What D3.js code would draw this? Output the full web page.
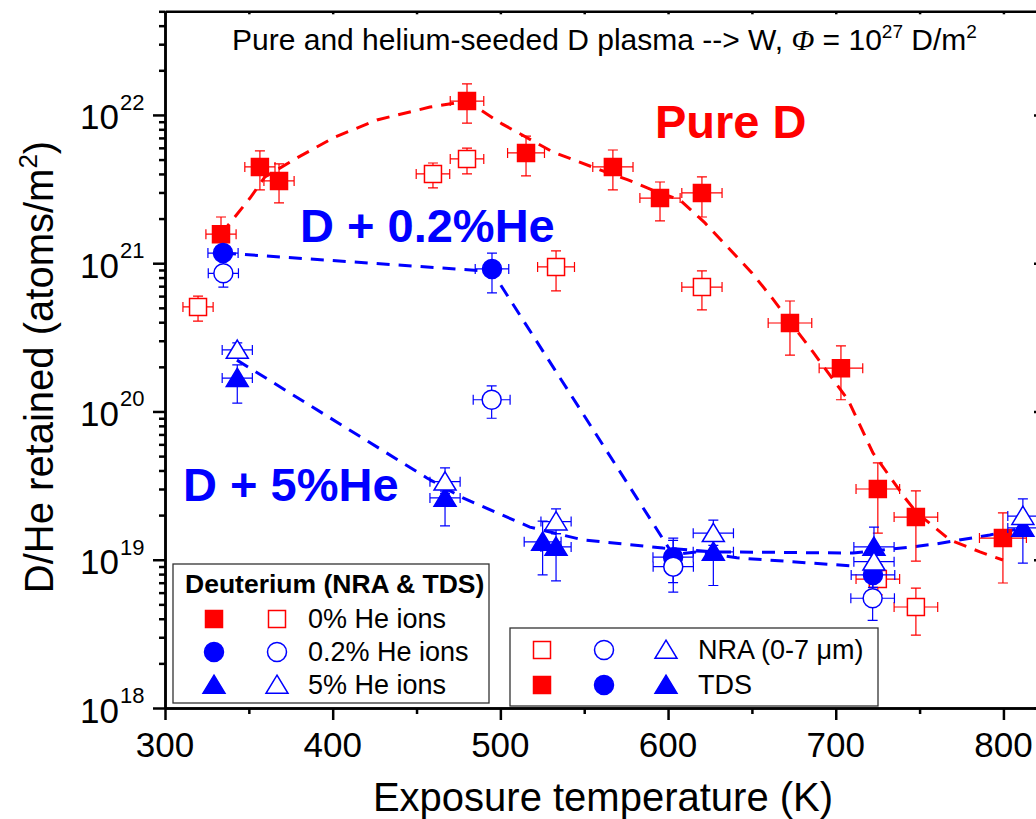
<!DOCTYPE html>
<html>
<head>
<meta charset="utf-8">
<script src="https://cdn.jsdelivr.net/npm/d3@7"></script>
<style>
  body { margin: 0; background: #fff; }
  svg { display: block; font-family: "Liberation Sans", Arial, sans-serif; }
</style>
</head>
<body>
<div id="chart"></div>
<script>
// tick values
const tempTicks = [300, 400, 500, 600, 700, 800];
const tempMinor = [350, 450, 550, 650, 750];
const topTicks = [300, 350, 400, 450, 500, 550, 600, 650, 700, 750, 800];
const decadeTicks = [1e18, 1e19, 1e20, 1e21, 1e22];
const decadeExp = ["18", "19", "20", "21", "22"];

// [T (K), retained, lower, upper, +-dT]
const pureTDS = [
  [333.4, 1.57e21, 1.19e21, 2.05e21, 9],
  [356.6, 4.46e21, 3.12e21, 5.72e21, 9],
  [368.0, 3.59e21, 2.55e21, 4.67e21, 9],
  [480.1, 1.24e22, 8.8e21, 1.62e22, 10],
  [515.3, 5.54e21, 3.88e21, 7.2e21, 11],
  [567.1, 4.46e21, 3.12e21, 5.8e21, 12],
  [595.2, 2.75e21, 1.93e21, 3.53e21, 12],
  [620.2, 2.98e21, 2.05e21, 3.82e21, 12],
  [672.7, 3.95e20, 2.4e20, 5.56e20, 13],
  [703.1, 1.96e20, 1.2e20, 2.77e20, 13],
  [725.1, 3.0e19, 1.51e19, 4.5e19, 13],
  [747.8, 1.94e19, 9.8e18, 2.91e19, 13],
  [799.7, 1.40e19, 6.97e18, 2.07e19, 14]
];
const pureNRA = [
  [319.7, 5.07e20, 4.07e20, 6.0e20, 9],
  [459.8, 4.0e21, 3.22e21, 4.74e21, 10],
  [480.1, 5.05e21, 4.0e21, 5.98e21, 10],
  [533.2, 9.44e20, 6.5e20, 1.21e21, 11],
  [620.2, 6.9e20, 4.84e20, 8.87e20, 12],
  [725.1, 7.4e18, 5.8e18, 9.2e18, 13],
  [747.8, 4.8e18, 3.1e18, 6.44e18, 13]
];
const he02TDS = [
  [334.6, 1.17e21, 1.05e21, 1.3e21, 9],
  [495.0, 9.15e20, 6.3e20, 1.17e21, 10],
  [603.0, 1.04e19, 7.0e18, 1.35e19, 12],
  [722.2, 7.9e18, 6.5e18, 9.5e18, 13]
];
const he02NRA = [
  [334.8, 8.55e20, 6.9e20, 1.05e21, 9],
  [494.8, 1.2e20, 9.0e19, 1.49e20, 11],
  [603.1, 8.98e18, 6.05e18, 1.4e19, 12],
  [722.0, 5.5e18, 3.9e18, 7.65e18, 13]
];
const he5TDS = [
  [343.1, 1.68e20, 1.14e20, 2.06e20, 9],
  [467.0, 2.61e19, 1.69e19, 2.9e19, 9],
  [525.2, 1.32e19, 7.9e18, 1.82e19, 11],
  [533.2, 1.22e19, 7.2e18, 1.5e19, 9],
  [627.0, 1.13e19, 6.7e18, 1.4e19, 12],
  [722.8, 1.22e19, 1.0e19, 1.66e19, 12],
  [811.6, 1.64e19, 9.5e18, 2.0e19, 9]
];
const he5NRA = [
  [343.1, 2.6e20, 2.3e20, 2.9e20, 9],
  [467.0, 3.36e19, 2.8e19, 4.16e19, 9],
  [533.2, 1.81e19, 1.5e19, 2.2e19, 9],
  [627.0, 1.51e19, 1.25e19, 1.85e19, 12],
  [722.8, 9.7e18, 8.0e18, 1.15e19, 12],
  [811.6, 1.97e19, 1.6e19, 2.57e19, 9]
];

// dashed guides to the eye
const guidePure = [[333.4, 1.57e21], [350.7, 2.75e21], [359.6, 3.82e21], [378.7, 5.13e21], [401.4, 7.1e21],
  [426.4, 9.25e21], [458, 1.13e22], [480.1, 1.24e22], [501, 8.7e21], [531.4, 5.62e21], [559.4, 4.26e21],
  [576.1, 3.65e21], [590.4, 3.12e21], [607.1, 2.67e21], [622, 1.87e21], [650, 8.6e20], [662, 5.83e20],
  [686.4, 2.52e20], [707.3, 1.2e20], [722.2, 5.25e19], [741.3, 2.61e19], [748.4, 2.07e19], [768.1, 1.36e19],
  [786, 1.13e19], [799.7, 9.96e18]];
const guide02 = [[334.6, 1.17e21], [495, 8.8e20], [603, 1.08e19], [617, 1.13e19], [641, 1.03e19], [709, 9.1e18]];
const guide5 = [[342.9, 2.22e20], [456.2, 3.56e19], [477.7, 2.61e19], [517.6, 1.66e19], [549.3, 1.36e19],
  [597, 1.2e19], [626.8, 1.13e19], [710.3, 1.11e19], [745.4, 1.22e19], [760.3, 1.28e19], [791.9, 1.47e19],
  [811.6, 1.64e19]];

const RED = "#ff0000", BLUE = "#0000ff";
const W = 1036, H = 819;

const svg = d3.select("#chart").append("svg").attr("width", W).attr("height", H);

const x = d3.scaleLinear().domain([300, 823]).range([165, 1042]);
const y = d3.scaleLog().domain([1e18, 5e22]).range([708, 11.3]);

// guides
const line = d3.line().x(d => x(d[0])).y(d => y(d[1]));
[[guidePure, RED], [guide02, BLUE], [guide5, BLUE]].forEach(([g, c]) => {
  svg.append("path").datum(g).attr("d", line)
    .attr("fill", "none").attr("stroke", c).attr("stroke-width", 3)
    .attr("stroke-dasharray", "13,9");
});

// symbols
const sym = {
  square: s => `M${-s / 2},${-s / 2}h${s}v${s}h${-s}Z`,
  circle: s => `M${s / 2},0A${s / 2},${s / 2} 0 1,1 ${-s / 2},0A${s / 2},${s / 2} 0 1,1 ${s / 2},0Z`,
  triangle: s => `M0,${-s * 0.45}L${s / 2},${s * 0.38}L${-s / 2},${s * 0.38}Z`
};
const sizes = { square: 17, circle: 19, triangle: 22 };

function drawSeries(data, shape, color, filled) {
  const g = svg.append("g");
  const eb = g.selectAll("g.eb").data(data).enter().append("g")
    .attr("stroke", color).attr("stroke-width", 1.2).attr("fill", "none");
  eb.append("path").attr("d", d => {
    const cx = x(d[0]), lo = y(d[2]), hi = y(d[3]);
    const xl = x(d[0] - d[4]), xr = x(d[0] + d[4]), cy = y(d[1]);
    return `M${cx},${lo}V${hi}M${cx - 5},${lo}H${cx + 5}M${cx - 5},${hi}H${cx + 5}` +
      `M${xl},${cy}H${xr}M${xl},${cy - 5}V${cy + 5}M${xr},${cy - 5}V${cy + 5}`;
  });
  g.selectAll("path.m").data(data).enter().append("path").attr("class", "m")
    .attr("d", sym[shape](sizes[shape]))
    .attr("transform", d => `translate(${x(d[0])},${y(d[1])})`)
    .attr("fill", filled ? color : "#fff")
    .attr("stroke", color).attr("stroke-width", 1.5);
}
drawSeries(pureTDS, "square", RED, true);
drawSeries(pureNRA, "square", RED, false);
drawSeries(he02TDS, "circle", BLUE, true);
drawSeries(he02NRA, "circle", BLUE, false);
drawSeries(he5TDS, "triangle", BLUE, true);
drawSeries(he5NRA, "triangle", BLUE, false);

// axes
function styleAxis(g) {
  g.selectAll("path, line").attr("stroke", "#000").attr("stroke-width", 2.5);
  g.selectAll("text").remove();
}
svg.append("g").attr("transform", "translate(0,708)")
  .call(d3.axisBottom(x).tickValues(tempTicks).tickSize(12).tickSizeOuter(0)).call(styleAxis);
svg.append("g").attr("transform", "translate(0,708)")
  .call(d3.axisBottom(x).tickValues(tempMinor).tickSize(6).tickSizeOuter(0)).call(styleAxis);
svg.append("g").attr("transform", "translate(0,11.3)")
  .call(d3.axisTop(x).tickValues(topTicks).tickSize(-3).tickSizeOuter(0)).call(styleAxis);

const minorY = [];
decadeTicks.forEach(p => { for (let k = 2; k <= 9; k++) if (p * k <= 5e22) minorY.push(p * k); });
svg.append("g").attr("transform", "translate(165,0)")
  .call(d3.axisLeft(y).tickValues(decadeTicks).tickSize(12).tickSizeOuter(0)).call(styleAxis);
svg.append("g").attr("transform", "translate(165,0)")
  .call(d3.axisLeft(y).tickValues(minorY).tickSize(6).tickSizeOuter(0)).call(styleAxis);
svg.append("g").attr("transform", "translate(1042,0)")
  .call(d3.axisRight(y).tickValues(decadeTicks).tickSize(-8).tickSizeOuter(0)).call(styleAxis);

// tick labels
svg.append("g").selectAll("text").data(tempTicks).enter().append("text")
  .attr("x", d => x(d)).attr("y", 757).attr("text-anchor", "middle")
  .attr("font-size", 35).text(d => d);
const yl = svg.append("g").selectAll("g").data(decadeTicks).enter().append("g");
yl.append("text").attr("x", 119).attr("y", d => y(d) + 14.5).attr("text-anchor", "end")
  .attr("font-size", 35).text("10");
yl.append("text").attr("x", 120).attr("y", d => y(d) - 5).attr("font-size", 22)
  .text((d, i) => decadeExp[i]);

// axis titles
svg.append("text").attr("x", 603).attr("y", 811).attr("text-anchor", "middle")
  .attr("font-size", 40).text("Exposure temperature (K)");
const yt = svg.append("text").attr("transform", "translate(53,367) rotate(-90)")
  .attr("text-anchor", "middle").attr("font-size", 40);
yt.append("tspan").text("D/He retained (atoms/m");
yt.append("tspan").attr("font-size", 26).attr("dy", -16).text("2");
yt.append("tspan").attr("dy", 16).text(")");

// header
const tt = svg.append("text").attr("x", 232).attr("y", 50).attr("font-size", 30);
tt.append("tspan").text("Pure and helium-seeded D plasma --> W, ");
tt.append("tspan").attr("font-family", "Liberation Serif, serif").attr("font-style", "italic").text("\u03A6");
tt.append("tspan").text(" = 10");
tt.append("tspan").attr("font-size", 19).attr("dy", -12).text("27");
tt.append("tspan").attr("dy", 12).text(" D/m");
tt.append("tspan").attr("font-size", 19).attr("dy", -12).text("2");

// annotations
svg.append("text").attr("x", 655).attr("y", 138).attr("font-size", 47).attr("font-weight", "bold")
  .attr("fill", RED).text("Pure D");
svg.append("text").attr("x", 300).attr("y", 242).attr("font-size", 47).attr("font-weight", "bold")
  .attr("fill", BLUE).text("D + 0.2%He");
svg.append("text").attr("x", 183).attr("y", 501).attr("font-size", 47).attr("font-weight", "bold")
  .attr("fill", BLUE).text("D + 5%He");

// legend 1
const legRows = [
  ["square", RED, "0% He ions"],
  ["circle", BLUE, "0.2% He ions"],
  ["triangle", BLUE, "5% He ions"]
];
const L1 = svg.append("g");
L1.append("rect").attr("x", 173).attr("y", 564).attr("width", 316).attr("height", 139)
  .attr("fill", "#fff").attr("stroke", "#333").attr("stroke-width", 1.3);
L1.append("text").attr("x", 185).attr("y", 593).attr("font-size", 26.5).attr("font-weight", "bold")
  .text("Deuterium (NRA & TDS)");
legRows.forEach((r, i) => {
  const cy = 619 + i * 33;
  L1.append("path").attr("d", sym[r[0]](sizes[r[0]])).attr("transform", `translate(214,${cy})`)
    .attr("fill", r[1]).attr("stroke", r[1]).attr("stroke-width", 1.5);
  L1.append("path").attr("d", sym[r[0]](sizes[r[0]])).attr("transform", `translate(277,${cy})`)
    .attr("fill", "#fff").attr("stroke", r[1]).attr("stroke-width", 1.5);
  L1.append("text").attr("x", 308).attr("y", cy + 9).attr("font-size", 27).text(r[2]);
});

// legend 2
const L2 = svg.append("g");
L2.append("rect").attr("x", 510).attr("y", 628).attr("width", 368).attr("height", 78)
  .attr("fill", "#fff").attr("stroke", "#333").attr("stroke-width", 1.3);
const legCols = [["square", RED, 542], ["circle", BLUE, 604], ["triangle", BLUE, 666]];
[["NRA (0-7 \u03BCm)", false, 650], ["TDS", true, 685]].forEach(([label, filled, cy]) => {
  legCols.forEach(([s, c, cx]) => {
    L2.append("path").attr("d", sym[s](sizes[s])).attr("transform", `translate(${cx},${cy})`)
      .attr("fill", filled ? c : "#fff").attr("stroke", c).attr("stroke-width", 1.5);
  });
  L2.append("text").attr("x", 698).attr("y", cy + 9).attr("font-size", 27).text(label);
});
</script>
</body>
</html>
